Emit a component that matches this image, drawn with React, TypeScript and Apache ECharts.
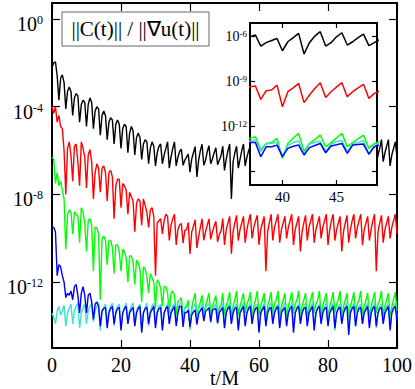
import React, { useEffect, useRef } from "react";
import * as echarts from "echarts";

// sampling step of the time series (t/M)
const T_STEP = 0.5;

// log10 of ||C(t)|| / ||grad u(t)||, one value per 0.5 in t (0..100)
const BLACK = [
  -2.2, -2.0, -1.95, -2.6, -3.7, -2.7, -2.55, -2.9,
  -4.1, -3.3, -3.1, -3.3, -4.4, -3.6, -3.4, -3.5,
  -4.7, -3.9, -3.7, -3.8, -4.9, -3.9, -3.6, -3.8,
  -5.0, -4.2, -4.0, -4.1, -5.3, -4.4, -4.2, -4.4,
  -5.5, -4.7, -4.5, -4.6, -5.7, -4.8, -4.6, -4.8,
  -5.9, -5.0, -4.8, -4.9, -6.1, -5.2, -4.9, -5.1,
  -6.2, -5.4, -5.2, -5.4, -6.4, -5.7, -5.5, -5.6,
  -6.6, -5.9, -5.6, -5.8, -6.7, -6.1, -5.8, -5.7,
  -6.6, -6.2, -5.9, -5.6, -6.8, -6.3, -5.9, -5.6,
  -6.7, -6.3, -6.04, -5.93, -6.67, -6.44, -6.3, -6.16,
  -6.98, -6.38, -6.1, -5.82, -7.2, -6.44, -6.0, -5.71,
  -6.67, -6.44, -6.05, -5.78, -6.6, -6.38, -6.1, -5.87,
  -6.64, -6.44, -6.22, -5.8, -6.9, -6.4, -6.0, -5.7,
  -8.2, -6.5, -6.1, -5.8, -6.8, -6.4, -6.0, -5.7,
  -6.7, -6.3, -6.0, -5.8, -6.9, -6.4, -6.0, -5.7,
  -6.8, -6.3, -5.9, -5.6, -7.4, -6.4, -6.0, -5.8,
  -6.7, -6.3, -6.0, -5.7, -6.8, -6.4, -6.1, -5.8,
  -6.9, -6.4, -6.0, -5.6, -6.7, -6.3, -6.0, -5.7,
  -7.1, -6.4, -6.0, -5.7, -6.8, -6.3, -5.9, -5.6,
  -6.7, -6.3, -6.0, -5.8, -6.9, -6.4, -6.0, -5.7,
  -6.8, -6.3, -5.9, -5.6, -6.7, -6.3, -6.0, -5.7,
  -7.3, -6.4, -6.0, -5.7, -6.8, -6.4, -6.0, -5.6,
  -6.7, -6.3, -5.9, -5.7, -6.9, -6.4, -6.0, -5.8,
  -6.8, -6.3, -5.9, -5.6, -6.6, -6.2, -5.9, -5.5,
  -6.5, -6.1, -5.8, -5.5, -6.7, -6.2, -5.9, -5.6,
  -6.3,
];

const RED = [
  -4.0, -4.3, -4.0, -4.7, -4.4, -4.9, -5.0, -6.0,
  -8.0, -5.9, -5.6, -6.2, -7.4, -5.8, -5.7, -6.5,
  -7.6, -5.6, -5.9, -6.3, -7.7, -6.2, -5.95, -6.5,
  -8.2, -7.0, -6.6, -6.8, -7.9, -6.8, -6.7, -7.0,
  -8.3, -7.0, -6.9, -7.2, -9.1, -7.6, -7.3, -7.3,
  -8.6, -7.5, -7.6, -7.8, -8.9, -7.9, -8.1, -8.3,
  -9.7, -8.4, -8.2, -8.3, -9.4, -8.2, -8.5, -8.8,
  -9.5, -8.7, -8.6, -9.0, -11.7, -9.3, -9.2, -9.1,
  -9.8, -9.2, -8.9, -9.0, -10.1, -9.4, -9.1, -8.9,
  -10.3, -9.6, -9.38, -9.33, -10.22, -9.64, -9.6, -9.27,
  -10.71, -9.71, -9.45, -9.16, -10.44, -9.93, -9.5, -9.11,
  -10.09, -9.71, -9.4, -9.11, -10.04, -9.71, -9.45, -9.22,
  -10.16, -9.82, -9.67, -9.1, -10.3, -9.6, -9.3, -9.0,
  -10.7, -9.7, -9.3, -8.95, -10.1, -9.6, -9.3, -9.0,
  -10.2, -9.6, -9.2, -8.9, -10.0, -9.5, -9.2, -8.95,
  -10.3, -9.6, -9.3, -9.0, -11.5, -9.7, -9.3, -8.9,
  -10.1, -9.5, -9.2, -8.9, -10.2, -9.6, -9.3, -9.0,
  -10.0, -9.5, -9.2, -8.9, -10.3, -9.6, -9.3, -9.0,
  -10.6, -9.7, -9.3, -8.95, -10.1, -9.5, -9.2, -8.9,
  -10.2, -9.6, -9.3, -9.0, -10.0, -9.5, -9.2, -8.9,
  -10.3, -9.6, -9.2, -8.9, -10.1, -9.6, -9.3, -9.0,
  -10.6, -9.7, -9.3, -8.95, -10.2, -9.6, -9.2, -8.9,
  -10.0, -9.5, -9.2, -8.9, -10.3, -9.6, -9.3, -9.0,
  -10.1, -9.6, -9.2, -8.9, -11.5, -9.7, -9.3, -8.95,
  -10.2, -9.6, -9.3, -9.0, -10.0, -9.5, -9.2, -8.9,
  -9.8,
];

const GREEN = [
  -6.3, -6.4, -7.5, -7.0, -7.6, -7.4, -7.8, -8.2,
  -10.5, -8.9, -8.7, -8.8, -9.8, -8.8, -8.9, -9.0,
  -10.2, -8.6, -8.8, -9.3, -10.6, -9.2, -9.1, -9.4,
  -11.5, -9.5, -9.5, -9.8, -12.8, -10.0, -9.9, -10.1,
  -11.2, -10.1, -10.1, -10.4, -11.6, -10.3, -10.3, -10.6,
  -11.5, -10.5, -10.6, -10.9, -12.0, -10.8, -10.8, -11.1,
  -12.1, -11.0, -11.1, -11.4, -12.9, -11.3, -11.4, -11.7,
  -12.5, -11.6, -11.8, -12.0, -13.2, -11.9, -12.0, -12.3,
  -13.1, -12.2, -12.2, -12.5, -13.4, -12.5, -12.4, -12.6,
  -13.5, -12.9, -12.82, -12.71, -13.6, -13.16, -13.1, -12.82,
  -14.16, -13.16, -12.8, -12.49, -13.67, -13.16, -12.9, -12.6,
  -13.38, -13.1, -12.8, -12.49, -13.38, -13.1, -12.85, -12.6,
  -13.49, -13.16, -13.04, -12.5, -13.5, -13.1, -12.8, -12.45,
  -13.6, -13.1, -12.8, -12.4, -13.5, -13.1, -12.8, -12.5,
  -13.4, -13.0, -12.8, -12.45, -13.6, -13.1, -12.8, -12.4,
  -13.5, -13.1, -12.8, -12.5, -13.7, -13.1, -12.8, -12.45,
  -13.4, -13.0, -12.8, -12.4, -13.5, -13.1, -12.8, -12.5,
  -13.6, -13.1, -12.8, -12.45, -13.4, -13.0, -12.8, -12.4,
  -13.5, -13.1, -12.8, -12.5, -13.6, -13.1, -12.8, -12.45,
  -13.4, -13.0, -12.8, -12.4, -13.5, -13.1, -12.8, -12.5,
  -13.6, -13.1, -12.8, -12.45, -13.4, -13.0, -12.8, -12.4,
  -13.5, -13.1, -12.8, -12.5, -13.6, -13.1, -12.8, -12.45,
  -13.4, -13.0, -12.8, -12.4, -13.5, -13.1, -12.8, -12.5,
  -13.6, -13.1, -12.8, -12.45, -13.4, -13.0, -12.8, -12.4,
  -13.5, -13.1, -12.8, -12.5, -13.6, -13.1, -12.8, -12.45,
  -13.3,
];

const BLUE = [
  -9.5, -9.5, -9.7, -11.7, -11.2, -11.3, -11.7, -12.0,
  -12.7, -12.5, -12.6, -12.4, -12.8, -12.2, -12.1, -12.6,
  -13.4, -12.5, -12.2, -12.6, -13.4, -12.6, -12.5, -12.9,
  -13.7, -13.0, -12.9, -13.1, -14.0, -13.3, -13.2, -13.15,
  -14.1, -13.4, -13.2, -13.1, -13.9, -13.4, -13.2, -13.15,
  -14.2, -13.4, -13.2, -13.1, -13.9, -13.4, -13.25, -13.15,
  -14.0, -13.4, -13.2, -13.1, -14.3, -13.4, -13.2, -13.15,
  -13.9, -13.4, -13.25, -13.1, -14.1, -13.4, -13.2, -13.15,
  -14.2, -13.4, -13.2, -13.1, -13.9, -13.4, -13.25, -13.1,
  -14.0, -13.4, -13.1, -13.1, -14.04, -13.38, -13.38, -13.27,
  -14.04, -13.49, -13.35, -13.27, -13.93, -13.44, -13.3, -13.16,
  -13.78, -13.33, -13.25, -13.16, -13.82, -13.27, -13.23, -13.2,
  -13.87, -13.38, -13.27, -13.15, -14.1, -13.4, -13.2, -13.1,
  -13.9, -13.4, -13.2, -13.15, -14.2, -13.4, -13.25, -13.1,
  -14.0, -13.4, -13.2, -13.1, -13.9, -13.4, -13.2, -13.15,
  -14.3, -13.4, -13.25, -13.1, -14.0, -13.4, -13.2, -13.15,
  -13.9, -13.4, -13.2, -13.1, -14.1, -13.4, -13.25, -13.15,
  -14.0, -13.4, -13.2, -13.1, -14.3, -13.4, -13.2, -13.1,
  -13.9, -13.4, -13.2, -13.15, -14.0, -13.4, -13.25, -13.1,
  -14.2, -13.4, -13.2, -13.1, -13.9, -13.4, -13.2, -13.15,
  -14.0, -13.4, -13.25, -13.1, -14.1, -13.4, -13.2, -13.15,
  -13.9, -13.4, -13.2, -13.1, -14.4, -13.4, -13.2, -13.1,
  -14.0, -13.4, -13.2, -13.15, -13.9, -13.4, -13.25, -13.1,
  -14.1, -13.4, -13.2, -13.1, -14.0, -13.4, -13.2, -13.15,
  -13.9, -13.4, -13.25, -13.1, -14.2, -13.4, -13.2, -13.1,
  -13.8,
];

const TURQUOISE = [
  -13.4, -13.6, -13.9, -13.3, -13.1, -13.5, -13.3, -13.05,
  -14.0, -13.4, -13.2, -13.0, -13.9, -13.3, -13.1, -12.95,
  -14.1, -13.4, -13.15, -13.0, -13.9, -13.3, -13.1, -12.95,
  -13.8, -13.3, -13.1, -12.95, -14.2, -13.4, -13.15, -13.0,
  -13.9, -13.3, -13.1, -12.95, -14.0, -13.3, -13.1, -13.0,
  -14.1, -13.4, -13.15, -12.95, -13.8, -13.3, -13.1, -12.95,
  -13.9, -13.3, -13.1, -13.0, -14.2, -13.4, -13.15, -12.95,
  -14.0, -13.3, -13.1, -12.95, -13.9, -13.3, -13.1, -13.0,
  -14.1, -13.4, -13.15, -12.95, -13.8, -13.3, -13.1, -12.95,
  -13.9, -13.3, -13.0, -12.95, -13.7, -13.2, -13.15, -13.1,
  -14.04, -13.3, -13.1, -13.0, -13.83, -13.2, -13.1, -13.0,
  -13.7, -13.2, -13.05, -12.97, -13.7, -13.2, -13.1, -12.97,
  -13.9, -13.3, -13.1, -12.95, -14.0, -13.3, -13.1, -12.95,
  -13.8, -13.3, -13.1, -13.0, -14.1, -13.4, -13.15, -12.95,
  -13.9, -13.3, -13.1, -12.95, -13.8, -13.3, -13.1, -13.0,
  -14.2, -13.4, -13.15, -12.95, -13.9, -13.3, -13.1, -12.95,
  -13.8, -13.3, -13.1, -13.0, -14.0, -13.3, -13.1, -12.95,
  -13.9, -13.3, -13.15, -12.95, -14.1, -13.4, -13.1, -13.0,
  -13.8, -13.3, -13.1, -12.95, -13.9, -13.3, -13.1, -12.95,
  -14.0, -13.4, -13.15, -13.0, -13.8, -13.3, -13.1, -12.95,
  -13.9, -13.3, -13.1, -12.95, -14.2, -13.4, -13.15, -13.0,
  -13.8, -13.3, -13.1, -12.95, -13.9, -13.3, -13.1, -12.95,
  -14.0, -13.3, -13.1, -13.0, -13.8, -13.3, -13.15, -12.95,
  -13.9, -13.4, -13.1, -12.95, -14.1, -13.3, -13.1, -13.0,
  -13.8, -13.3, -13.1, -12.95, -14.0, -13.3, -13.1, -12.95,
  -13.6,
];

const SERIES_NAMES = ["black", "red", "green", "turquoise", "blue"];
const SERIES_COLORS = ["#000000", "#ff0000", "#00ff00", "#40e0d0", "#0000ff"];
const SERIES_VALUES = [BLACK, RED, GREEN, TURQUOISE, BLUE];

// axes
const MAIN_X_MIN = 0;
const MAIN_X_MAX = 100;
const MAIN_X_INTERVAL = 20;
const MAIN_Y_MIN = -15;
const MAIN_Y_MAX = 0.73;
const MAIN_Y_TICKS = [-12, -8, -4, 0];
const INSET_X_MIN = 37;
const INSET_X_MAX = 48.75;
const INSET_X_TICKS = [40, 45];
const INSET_Y_MIN = -15.93;
const INSET_Y_MAX = -5.13;
const INSET_Y_TICKS = [-15, -12, -9, -6];
const INSET_Y_LABELS = [-12, -9, -6];
const LEGEND_TEXT = "||C(t)|| / ||\u2207u(t)||";
const X_NAME = "t/M";

const SERIF = "Liberation Serif";

export default function App() {
  const ref = useRef<HTMLDivElement>(null);

  useEffect(() => {
    document.body.style.margin = "0";
    if (!ref.current) return;
    const chart = echarts.init(ref.current, null, { renderer: "svg" });

    const pairs = (vals: number[]) => vals.map((v, i) => [i * T_STEP, v]);

    const noLine = { show: false, onZero: false };
    const tickStyle = { color: "#000", width: 1.2 };

    const mainRich = {
      b: { fontFamily: SERIF, fontSize: 20, lineHeight: 20, padding: [4, 0, 0, 0], verticalAlign: "bottom", color: "#000" },
      s: { fontFamily: SERIF, fontSize: 12, lineHeight: 12, verticalAlign: "top", color: "#000" },
    };
    const insetRich = {
      b: { fontFamily: SERIF, fontSize: 14, lineHeight: 14, padding: [3, 0, 0, 0], verticalAlign: "bottom", color: "#000" },
      s: { fontFamily: SERIF, fontSize: 9, lineHeight: 9, verticalAlign: "top", color: "#000" },
    };

    const mainSeries = SERIES_VALUES.map((vals, k) => ({
      name: SERIES_NAMES[k],
      type: "line",
      xAxisIndex: 0,
      yAxisIndex: 0,
      data: pairs(vals),
      showSymbol: false,
      silent: true,
      z: 2,
      lineStyle: { color: SERIES_COLORS[k], width: 1.4 },
      itemStyle: { color: SERIES_COLORS[k] },
    }));
    const insetSeries = SERIES_VALUES.map((vals, k) => ({
      name: SERIES_NAMES[k] + " inset",
      type: "line",
      xAxisIndex: 2,
      yAxisIndex: 2,
      data: pairs(vals),
      showSymbol: false,
      silent: true,
      z: 11,
      lineStyle: { color: SERIES_COLORS[k], width: 1.5 },
      itemStyle: { color: SERIES_COLORS[k] },
    }));

    const option: any = {
      animation: false,
      backgroundColor: "#fff",
      textStyle: { fontFamily: SERIF },
      grid: [
        {
          left: 52, top: 3, right: 18, bottom: 41, containLabel: false, outerBoundsMode: "none",
          show: true, borderColor: "#000", borderWidth: 2, backgroundColor: "transparent",
        },
        {
          left: 250, top: 23, right: 38, bottom: 204, containLabel: false, outerBoundsMode: "none",
          show: true, backgroundColor: "#fff", borderColor: "#000", borderWidth: 2, z: 10,
        },
      ],
      xAxis: [
        {
          gridIndex: 0, type: "value", position: "bottom",
          min: MAIN_X_MIN, max: MAIN_X_MAX, interval: MAIN_X_INTERVAL,
          axisLine: noLine, splitLine: { show: false },
          axisTick: { inside: true, length: 8, lineStyle: tickStyle },
          axisLabel: { fontFamily: SERIF, fontSize: 20, color: "#000", margin: 7 },
          name: X_NAME, nameLocation: "middle", nameGap: 20, nameMoveOverlap: false,
          nameTextStyle: { fontFamily: SERIF, fontSize: 20, color: "#000" },
        },
        {
          gridIndex: 0, type: "value", position: "top",
          min: MAIN_X_MIN, max: MAIN_X_MAX, interval: MAIN_X_INTERVAL,
          axisLine: noLine, splitLine: { show: false },
          axisTick: { inside: true, length: 8, lineStyle: tickStyle },
          axisLabel: { show: false },
        },
        {
          gridIndex: 1, type: "value", position: "bottom", z: 12,
          min: INSET_X_MIN, max: INSET_X_MAX,
          axisLine: noLine, splitLine: { show: false },
          axisTick: { inside: true, length: 5, customValues: INSET_X_TICKS, lineStyle: tickStyle },
          axisLabel: { customValues: INSET_X_TICKS, fontFamily: SERIF, fontSize: 15, color: "#000", margin: 4 },
        },
        {
          gridIndex: 1, type: "value", position: "top", z: 12,
          min: INSET_X_MIN, max: INSET_X_MAX,
          axisLine: noLine, splitLine: { show: false },
          axisTick: { inside: true, length: 5, customValues: INSET_X_TICKS, lineStyle: tickStyle },
          axisLabel: { show: false },
        },
      ],
      yAxis: [
        {
          gridIndex: 0, type: "value", position: "left",
          min: MAIN_Y_MIN, max: MAIN_Y_MAX,
          axisLine: noLine, splitLine: { show: false },
          axisTick: { inside: true, length: 8, customValues: MAIN_Y_TICKS, lineStyle: tickStyle },
          axisLabel: {
            customValues: MAIN_Y_TICKS, margin: 9, padding: [10, 0, 0, 0],
            formatter: (v: number) => `{b|10}{s|${v}}`, rich: mainRich,
          },
        },
        {
          gridIndex: 0, type: "value", position: "right",
          min: MAIN_Y_MIN, max: MAIN_Y_MAX,
          axisLine: noLine, splitLine: { show: false },
          axisTick: { inside: true, length: 8, customValues: MAIN_Y_TICKS, lineStyle: tickStyle },
          axisLabel: { show: false },
        },
        {
          gridIndex: 1, type: "value", position: "left", z: 12,
          min: INSET_Y_MIN, max: INSET_Y_MAX,
          axisLine: noLine, splitLine: { show: false },
          axisTick: { inside: true, length: 5, customValues: INSET_Y_TICKS, lineStyle: tickStyle },
          axisLabel: {
            customValues: INSET_Y_LABELS, margin: 3,
            formatter: (v: number) => `{b|10}{s|${v}}`, rich: insetRich,
          },
        },
        {
          gridIndex: 1, type: "value", position: "right", z: 12,
          min: INSET_Y_MIN, max: INSET_Y_MAX,
          axisLine: noLine, splitLine: { show: false },
          axisTick: { inside: true, length: 5, customValues: INSET_Y_TICKS, lineStyle: tickStyle },
          axisLabel: { show: false },
        },
      ],
      series: [...mainSeries, ...insetSeries],
      graphic: [
        {
          type: "group",
          z: 20,
          children: [
            {
              type: "rect",
              shape: { x: 62, y: 12, width: 147, height: 34 },
              style: { fill: "#fff", stroke: "#666", lineWidth: 1 },
            },
            {
              type: "text",
              x: 135.5,
              y: 29,
              style: {
                text: LEGEND_TEXT, fontFamily: SERIF, fontSize: 21, fill: "#000",
                align: "center", verticalAlign: "middle",
              },
            },
          ],
        },
      ],
    };

    chart.setOption(option);
    return () => chart.dispose();
  }, []);

  return <div ref={ref} style={{ width: 415, height: 389 }} />;
}
